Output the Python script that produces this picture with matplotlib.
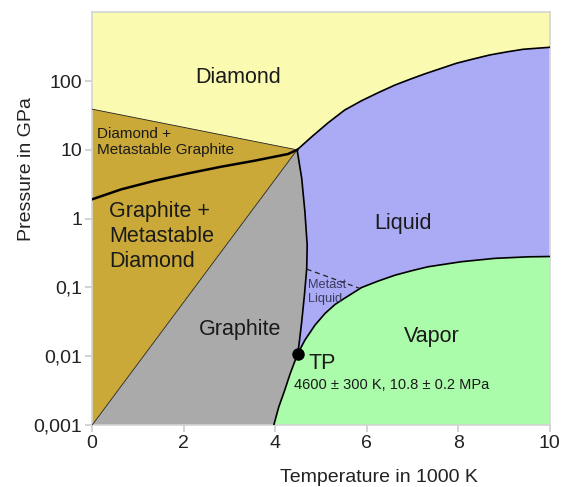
import matplotlib.pyplot as plt
import numpy as np

plt.rcParams['font.family'] = ['Liberation Sans', 'DejaVu Sans']

# phase boundaries of carbon (T in 1000 K, P in GPa)
eq_T = [0, 0.64, 1.37, 2.10, 2.82, 3.55, 4.28, 4.48]          # graphite/diamond equilibrium
eq_P = [1.91, 2.67, 3.56, 4.55, 5.68, 6.95, 8.69, 10.0]

dmg_T = [0, 4.48]                                              # diamond / diamond + metast. graphite
dmg_P = [39.0, 10.0]

gmd_T = [0, 4.48]                                              # graphite / graphite + metast. diamond
gmd_P = [0.001, 10.0]

melt_T = [4.48, 4.58, 4.65, 4.70, 4.69, 4.64, 4.58, 4.52, 4.49]   # graphite / liquid
melt_P = [10.0, 3.86, 1.26, 0.413, 0.19, 0.078, 0.0317, 0.0146, 0.0108]

dl_T = [4.48, 4.80, 5.16, 5.52, 5.89, 6.25, 6.62, 6.98, 7.27, 7.96, 8.33, 8.69, 9.05, 9.42, 10.0]
dl_P = [10.0, 15.5, 24.8, 37.9, 51.8, 67.6, 87.5, 108, 127, 181, 209, 239, 264, 289, 309]   # diamond / liquid

lv_T = [4.49, 4.65, 4.87, 5.09, 5.31, 5.52, 5.89, 6.25, 6.62, 6.98, 7.34, 8.07, 8.80, 9.53, 10.0]
lv_P = [0.0108, 0.0172, 0.0284, 0.042, 0.0568, 0.070, 0.100, 0.124, 0.151, 0.175, 0.200,
        0.237, 0.265, 0.279, 0.282]                            # liquid / vapor

sub_T = [3.97, 4.08, 4.21, 4.33, 4.49]                         # graphite / vapor
sub_P = [0.001, 0.00185, 0.00323, 0.00564, 0.0108]

meta_T = [4.69, 5.85]                                          # metastable liquid (dashed)
meta_P = [0.185, 0.097]

tp_T, tp_P = 4.49, 0.0108

y_ticks = [0.001, 0.01, 0.1, 1, 10, 100]
y_labels = ['0,001', '0,01', '0,1', '1', '10', '100']
x_ticks = [0, 2, 4, 6, 8, 10]
T_min, T_max, P_min, P_max = 0, 10, 0.001, 1000

fig = plt.figure(figsize=(5.65, 4.87), dpi=100)
ax = fig.add_axes([0.163, 0.127, 0.81, 0.848])
ax.set_yscale('log')

c_diamond = '#fafbb0'
c_meta = '#caa938'
c_graph = '#aaaaaa'
c_liq = '#aaaaf5'
c_vap = '#aafbaa'

# regions
ax.fill([T_min, T_max] + dl_T[::-1] + dmg_T[::-1],
        [P_max, P_max] + dl_P[::-1] + dmg_P[::-1], color=c_diamond, lw=0, zorder=1)
ax.fill(dmg_T + gmd_T[::-1], dmg_P + gmd_P[::-1], color=c_meta, lw=0, zorder=1)
ax.fill(gmd_T + melt_T + sub_T[::-1], gmd_P + melt_P + sub_P[::-1], color=c_graph, lw=0, zorder=1)
ax.fill(dl_T + lv_T[::-1] + melt_T[::-1], dl_P + lv_P[::-1] + melt_P[::-1], color=c_liq, lw=0, zorder=1)
ax.fill(lv_T + [T_max] + sub_T, lv_P + [P_min] + sub_P, color=c_vap, lw=0, zorder=1)

# boundaries
ax.plot(eq_T, eq_P, color='black', lw=1.8, zorder=3)
ax.plot(dmg_T, dmg_P, color='#222222', lw=0.6, zorder=3)
ax.plot(gmd_T, gmd_P, color='#222222', lw=0.6, zorder=3)
ax.plot(melt_T, melt_P, color='black', lw=1.2, zorder=3)
ax.plot(dl_T, dl_P, color='black', lw=1.2, zorder=3)
ax.plot(lv_T, lv_P, color='black', lw=1.2, zorder=3)
ax.plot(sub_T, sub_P, color='black', lw=1.2, zorder=3)
ax.plot(meta_T, meta_P, color='#222222', lw=0.9, ls=(0, (4, 3)), zorder=3)
ax.plot([tp_T], [tp_P], 'o', color='black', ms=8, zorder=4)

# labels
tc = '#1a1a1a'
ax.text(3.2, 114, 'Diamond', fontsize=15.5, color=tc, ha='center', va='center')
ax.text(0.1, 13, 'Diamond +\nMetastable Graphite', fontsize=11, color=tc, ha='left', va='center')
ax.text(0.37, 0.55, 'Graphite +\nMetastable\nDiamond', fontsize=15.5, color=tc, ha='left',
        va='center', linespacing=1.25)
ax.text(3.23, 0.0245, 'Graphite', fontsize=15.5, color=tc, ha='center', va='center')
ax.text(6.79, 0.86, 'Liquid', fontsize=15.5, color=tc, ha='center', va='center')
ax.text(7.43, 0.0195, 'Vapor', fontsize=15.5, color=tc, ha='center', va='center')
ax.text(4.72, 0.0078, 'TP', fontsize=15.5, color=tc, ha='left', va='center')
ax.text(4.41, 0.0038, '4600 ± 300 K, 10.8 ± 0.2 MPa', fontsize=10.5, color=tc, ha='left', va='center')
ax.text(4.72, 0.085, 'Metast\nLiquid', fontsize=9.2, color='#3a3a5c', ha='left', va='center',
        linespacing=1.2)

ax.set_xlim(T_min, T_max)
ax.set_ylim(P_min, P_max)
ax.set_xticks(x_ticks)
ax.set_yticks(y_ticks)
ax.set_yticklabels(y_labels)
ax.minorticks_off()
ax.tick_params(labelsize=14, colors='#cccccc', labelcolor='#222222', length=5, width=1.2, pad=2)
for s in ax.spines.values():
    s.set_color('#d4d4d4')
    s.set_linewidth(1.2)
ax.set_xlabel('Temperature in 1000 K', fontsize=14, color='#222222', labelpad=12, x=0.627)
ax.set_ylabel('Pressure in GPa', fontsize=14, color='#222222', labelpad=-1, y=0.621)

fig.savefig('out.png', dpi=100)
